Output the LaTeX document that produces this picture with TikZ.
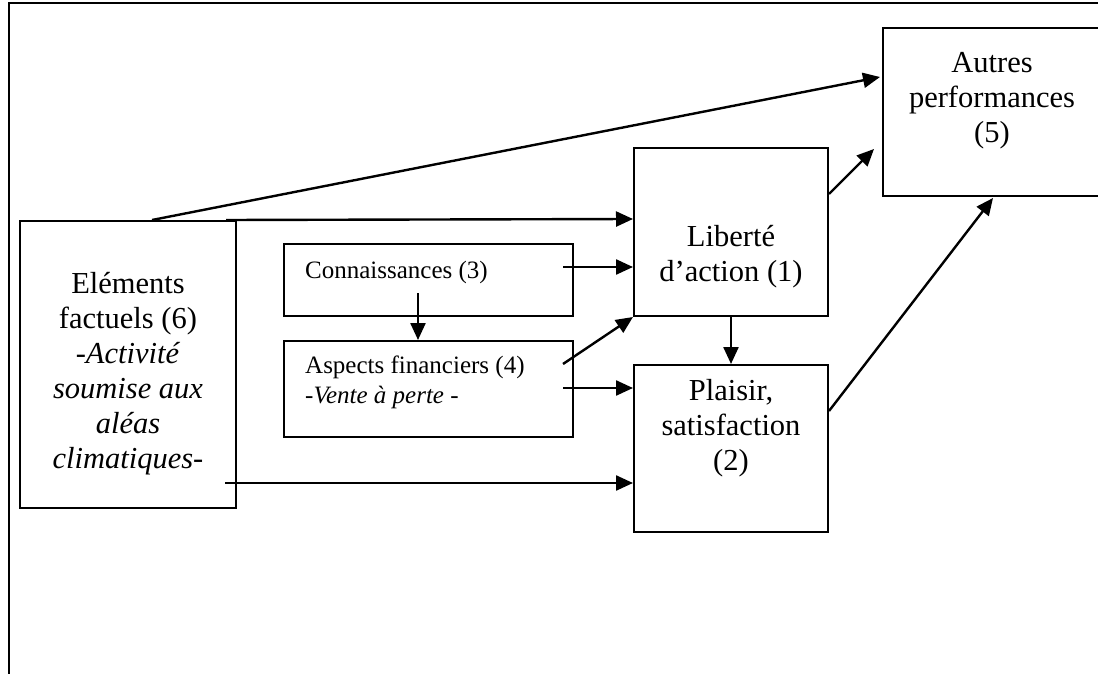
\documentclass[tikz,border=0pt]{standalone}
\usepackage{fontspec}
\setmainfont{Liberation Serif}
\usetikzlibrary{arrows.meta,calc}
\begin{document}
\begin{tikzpicture}[x=1pt,y=-1pt,
  box/.style={draw,line width=2pt,rectangle,inner sep=0pt,anchor=center},
  big/.style={font=\fontsize{30.5}{35}\selectfont,align=center,inner sep=0pt},
  small/.style={font=\fontsize{25}{30}\selectfont,align=left,inner sep=0pt},
  arr/.style={line width=2.4pt,-{Triangle[length=17pt,width=15pt]}},
  frame/.style={line width=2.4pt}]
\useasboundingbox (0,0) rectangle (1098,674);
\clip (0,0) rectangle (1098,674);
% outer frame (top and left)
\coordinate (ftr) at (1098,3);
\coordinate (ftl) at (9,3);
\coordinate (fbl) at (9,674);
\draw[frame] (ftr) -- (ftl) -- (fbl);
% boxes
\node[box, minimum width=218pt, minimum height=168pt] (auto) at (992,112) {};
\node[box, minimum width=194pt, minimum height=168pt] (lib) at (731,232) {};
\node[box, minimum width=194pt, minimum height=167pt] (pla) at (731,448.5) {};
\node[box, minimum width=216pt, minimum height=287pt] (ele) at (128,364.5) {};
\node[box, minimum width=289pt, minimum height=72pt] (con) at (428.5,280) {};
\node[box, minimum width=289pt, minimum height=96pt] (asp) at (428.5,389) {};
% texts
\node[big] (autoT) at (992,101) {Autres\\performances\\(5)};
\node[big] (libT) at (731,257) {Liberté\\d’action (1)};
\node[big] (plaT) at (731,428) {Plaisir,\\satisfaction\\(2)};
\node[big] (eleT) at (128,374) {Eléments\\factuels (6)\\-\textit{Activité}\\\textit{soumise aux}\\\textit{aléas}\\\textit{climatiques}-};
\node[small,anchor=base west] (conT) at (305,278) {Connaissances (3)};
\node[small,anchor=west] (aspT) at (305,382) {Aspects financiers (4)\\\textit{-Vente à perte -}};
% connectors
\draw[arr] ($(ele.north west)+(133,0)$) -- ($(auto.north west)+(-2,50)$);
\draw[arr] ($(ele.north west)+(207,0)$) -- ($(lib.north west)+(0,72)$);
\draw[arr] ($(con.north east)+(-11,24)$) -- ($(lib.north west)+(0,120)$);
\draw[arr] ($(con.south west)+(135,-24)$) -- ($(asp.north west)+(135,0)$);
\draw[arr] ($(asp.north east)+(-11,24)$) -- (lib.south west);
\draw[arr] ($(asp.north east)+(-11,48)$) -- ($(pla.north west)+(0,24)$);
\draw[arr] ($(ele.north west)+(206,263)$) -- ($(pla.north west)+(0,119)$);
\draw[arr] (lib.south) -- (pla.north);
\draw[arr] ($(lib.north east)+(0,47)$) -- ($(auto.north west)+(-8,122)$);
\draw[arr] ($(pla.north east)+(0,47)$) -- ($(auto.south)+(1,1)$);
\end{tikzpicture}
\end{document}
